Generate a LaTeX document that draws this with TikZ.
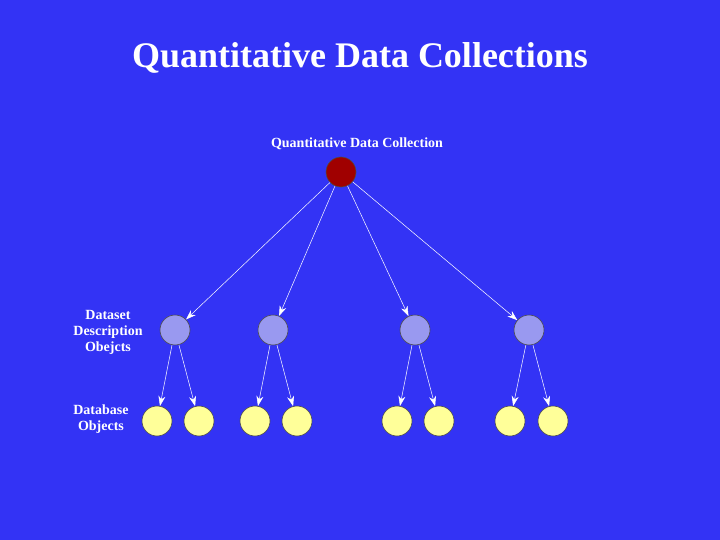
\documentclass[tikz,border=0pt]{standalone}
\usepackage{fontspec}
\setmainfont{Liberation Serif}
\usetikzlibrary{arrows.meta}
\definecolor{bg}{HTML}{3333F5}
\definecolor{topc}{HTML}{A00000}
\definecolor{midc}{HTML}{9999F0}
\definecolor{botc}{HTML}{FFFF99}
\begin{document}
\begin{tikzpicture}[x=1pt,y=-1pt,
  circ/.style={circle,draw=black!70,line width=0.6pt,minimum size=30pt,inner sep=0pt},
  topn/.style={circ,fill=topc},
  midn/.style={circ,fill=midc},
  botn/.style={circ,fill=botc},
  lbl/.style={text=white,font=\bfseries\fontsize{14}{16}\selectfont,align=center,inner sep=0pt},
  link/.style={white,line width=0.5pt,-{Stealth[length=10pt,width=7pt]}}]
\fill[bg] (0,0) rectangle (720,540);
\useasboundingbox (0,0) rectangle (720,540);
\node[text=white,font=\bfseries\fontsize{36}{42}\selectfont] (title) at (360,58) {Quantitative Data Collections};
\node[lbl] (tl) at (357,144) {Quantitative Data Collection};
\node[lbl] (ml) at (108,332) {Dataset\\Description\\Obejcts};
\node[lbl] (bl) at (101,419) {Database\\Objects};
\node[topn] (t) at (341,172) {};
\foreach \i/\x in {1/175,2/273,3/415,4/529} \node[midn] (m\i) at (\x,330) {};
\foreach \i/\x in {1/157,2/199,3/255,4/297,5/397,6/439,7/510,8/553} \node[botn] (b\i) at (\x,421) {};
\foreach \i in {1,...,4} \draw[link] (t) -- (m\i);
\draw[link] (m1) -- (b1); \draw[link] (m1) -- (b2);
\draw[link] (m2) -- (b3); \draw[link] (m2) -- (b4);
\draw[link] (m3) -- (b5); \draw[link] (m3) -- (b6);
\draw[link] (m4) -- (b7); \draw[link] (m4) -- (b8);
\end{tikzpicture}
\end{document}
